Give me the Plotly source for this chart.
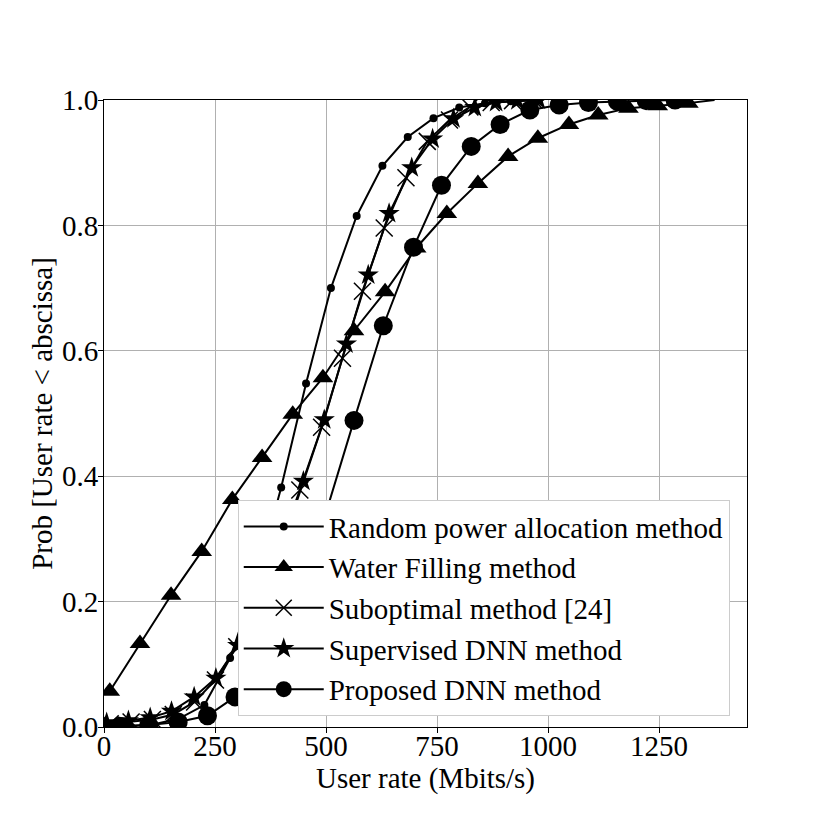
import plotly.graph_objects as go

## values (user rate in Mbits/s, CDF)
random_x = [52, 110, 168, 226, 284, 341, 399, 455, 511, 569, 627, 684, 742, 800, 858, 916, 974]
random_y = [0.001, 0.004, 0.013, 0.035, 0.110, 0.230, 0.382, 0.548, 0.700, 0.815, 0.895, 0.941, 0.971, 0.988, 0.995, 0.998, 1.0]

wf_x = [13, 81, 151, 220, 289, 356, 425, 493, 563, 633, 703, 772, 842, 910, 977, 1047, 1113, 1181, 1247, 1316]
wf_y = [0.057, 0.133, 0.210, 0.280, 0.363, 0.430, 0.499, 0.557, 0.632, 0.694, 0.764, 0.819, 0.867, 0.910, 0.939, 0.961, 0.976, 0.987, 0.991, 0.995]
wf_tail_x = [1316, 1375]
wf_tail_y = [0.995, 1.0]

subopt_x = [14, 61, 109, 156, 204, 251, 299, 346, 394, 441, 490, 537, 582, 631, 680, 728, 778, 824, 872, 920, 968]
subopt_y = [0.005, 0.008, 0.012, 0.020, 0.040, 0.075, 0.128, 0.200, 0.285, 0.378, 0.478, 0.588, 0.695, 0.796, 0.876, 0.934, 0.968, 0.989, 0.996, 0.999, 1.0]

sup_x = [6, 55, 104, 152, 203, 252, 301, 350, 401, 449, 496, 546, 595, 642, 693, 740, 787, 835, 883, 931, 979]
sup_y = [0.007, 0.010, 0.015, 0.025, 0.048, 0.078, 0.130, 0.200, 0.290, 0.392, 0.490, 0.611, 0.721, 0.819, 0.892, 0.938, 0.970, 0.988, 0.996, 0.999, 1.0]

prop_x = [35, 101, 167, 233, 295, 365, 431, 497, 563, 629, 697, 760, 827, 892, 959, 1025, 1091, 1156, 1221, 1286]
prop_y = [0.001, 0.003, 0.008, 0.018, 0.048, 0.100, 0.200, 0.335, 0.489, 0.640, 0.765, 0.864, 0.926, 0.961, 0.984, 0.992, 0.996, 0.998, 0.999, 1.0]

x_ticks = [0, 250, 500, 750, 1000, 1250]
y_ticks = [0.0, 0.2, 0.4, 0.6, 0.8, 1.0]

serif = "Liberation Serif, Times New Roman, serif"
fs = 29

fig = go.Figure()

fig.add_trace(go.Scatter(x=random_x, y=random_y, mode='lines+markers',
                         name='Random power allocation method',
                         line=dict(color='black', width=2),
                         marker=dict(symbol='circle', size=8, color='black')))
fig.add_trace(go.Scatter(x=wf_x, y=wf_y, mode='lines+markers',
                         name='Water Filling method',
                         line=dict(color='black', width=2),
                         marker=dict(symbol='triangle-up', size=18, color='black')))
fig.add_trace(go.Scatter(x=wf_tail_x, y=wf_tail_y, mode='lines', showlegend=False,
                         line=dict(color='black', width=2)))
fig.add_trace(go.Scatter(x=subopt_x, y=subopt_y, mode='lines+markers',
                         name='Suboptimal method [24]',
                         line=dict(color='black', width=2),
                         marker=dict(symbol='x-thin', size=17, color='black',
                                     line=dict(color='black', width=1.5))))
fig.add_trace(go.Scatter(x=sup_x, y=sup_y, mode='lines+markers',
                         name='Supervised DNN method',
                         line=dict(color='black', width=2),
                         marker=dict(symbol='star', size=16, color='black')))
fig.add_trace(go.Scatter(x=prop_x, y=prop_y, mode='lines+markers',
                         name='Proposed DNN method',
                         line=dict(color='black', width=2),
                         marker=dict(symbol='circle', size=19, color='black')))

axis_common = dict(showline=True, linecolor='black', linewidth=1, mirror=True,
                   ticks='outside', ticklen=5, tickcolor='black',
                   showgrid=True, gridcolor='#b0b0b0', gridwidth=1,
                   zeroline=False, tickfont=dict(family=serif, size=fs, color='black'))

## page body has an 8px margin, so shift the margins to land the axes where the reference has them
fig.update_layout(
    width=830, height=830,
    margin=dict(l=96, r=91, t=92, b=111),
    paper_bgcolor='white', plot_bgcolor='white',
    font=dict(family=serif, size=fs, color='black'),
    xaxis=dict(range=[0, 1448], tickvals=x_ticks, ticklabelstandoff=-12,
               title=dict(text='User rate (Mbits/s)', standoff=2,
                          font=dict(family=serif, size=fs)),
               **axis_common),
    yaxis=dict(range=[0, 1], tickvals=y_ticks, tickformat='.1f', ticklabelstandoff=-6,
               title=dict(text='Prob [User rate < abscissa]', standoff=0,
                          font=dict(family=serif, size=fs)),
               **axis_common),
    legend=dict(x=0.208, y=0.362, xanchor='left', yanchor='top',
                bgcolor='white', bordercolor='#cccccc', borderwidth=1,
                font=dict(family=serif, size=fs), itemwidth=80,
                tracegroupgap=0),
)

fig.write_html("out.html")
